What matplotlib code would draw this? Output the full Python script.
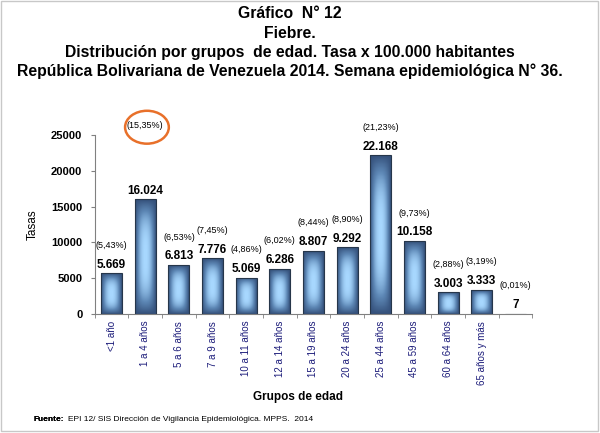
import numpy as np
import matplotlib.pyplot as plt
from matplotlib.colors import LinearSegmentedColormap
from matplotlib.patches import Ellipse, Rectangle

plt.rcParams['font.family'] = ['Liberation Sans', 'DejaVu Sans']

grupos = ['<1 año', '1 a 4 años', '5 a 6 años', '7 a 9 años', '10 a 11 años',
          '12 a 14 años', '15 a 19 años', '20 a 24 años', '25 a 44 años',
          '45 a 59 años', '60 a 64 años', '65 años y más', '']
tasas = [5669, 16024, 6813, 7776, 5069, 6286, 8807, 9292, 22168, 10158, 3003, 3333, 7]
etiquetas = ['5.669', '16.024', '6.813', '7.776', '5.069', '6.286', '8.807',
             '9.292', '22.168', '10.158', '3.003', '3.333', '7']
porcentajes = ['(5,43%)', '(15,35%)', '(6,53%)', '(7,45%)', '(4,86%)', '(6,02%)',
               '(8,44%)', '(8,90%)', '(21,23%)', '(9,73%)', '(2,88%)', '(3,19%)',
               '(0,01%)']

fig = plt.figure(figsize=(6, 4.33), dpi=100)
ax = fig.add_axes([0.158, 0.275, 0.729, 0.413])

x = np.arange(len(tasas))
bars = ax.bar(x, tasas, width=0.62, facecolor='none', edgecolor='#26364a',
              linewidth=0.8, zorder=3)

# gradient fill: dark at the edges, light in the middle
cmap = LinearSegmentedColormap.from_list('azul', ['#34507a', '#5d87b5', '#a8d8ff'])
u = np.linspace(-1, 1, 60)
v = np.linspace(-1, 1, 120)
U, V = np.meshgrid(u, v)
grad = (1 - np.abs(U) ** 2.2) * (1 - np.abs(V) ** 3.0)
for b in bars:
    x0, y0 = b.get_x(), b.get_y()
    w, h = b.get_width(), b.get_height()
    im = ax.imshow(grad, cmap=cmap, extent=[x0, x0 + w, y0, y0 + h],
                   aspect='auto', zorder=2, origin='lower', vmin=0, vmax=1)
    im.set_clip_path(b)

ax.set_xlim(-0.5, len(tasas) - 0.5)
ax.set_ylim(0, 25000)
ax.set_yticks(range(0, 25001, 5000))
ax.tick_params(axis='y', labelsize=8, length=3, color='#808080', pad=6)
for t in ax.get_yticklabels():
    t.set_fontweight('bold')

ax.set_xticks(x)
ax.set_xticklabels(grupos, rotation=90, fontsize=7, color='#1c1c7a')
ax.set_xticks(np.arange(-0.5, len(tasas), 1), minor=True)
ax.tick_params(axis='x', which='major', length=0, pad=5)
ax.tick_params(axis='x', which='minor', length=3, color='#808080')

for s in ['top', 'right']:
    ax.spines[s].set_visible(False)
for s in ['left', 'bottom']:
    ax.spines[s].set_color('#808080')

for i, (val, lab, pct) in enumerate(zip(tasas, etiquetas, porcentajes)):
    ax.annotate(lab, (i, val), xytext=(0, 2), textcoords='offset points',
                ha='center', va='bottom', fontsize=8.5, fontweight='bold')
    if i == 1:
        ax.text(i, 26300, pct, ha='center', va='center', fontsize=6.5,
                clip_on=False)
    else:
        ax.annotate(pct, (i, val), xytext=(0, 17), textcoords='offset points',
                    ha='center', va='bottom', fontsize=6.5)

ax.add_patch(Ellipse((1.05, 26100), 1.3, 4600, fill=False, edgecolor='#e8702a',
                     linewidth=1.8, clip_on=False))

ax.set_ylabel('Tasas', fontsize=8.5, labelpad=9)
fig.text(0.497, 1 - 397 / 433, 'Grupos de edad', ha='center', va='center',
         fontsize=8.5, fontweight='bold')

titulo = ['Gráfico  N° 12', 'Fiebre.',
          'Distribución por grupos  de edad. Tasa x 100.000 habitantes',
          'República Bolivariana de Venezuela 2014. Semana epidemiológica N° 36.']
for k, linea in enumerate(titulo):
    fig.text(0.483, 1 - (14 + 19 * k) / 433, linea, ha='center', va='center',
             fontsize=11.3, fontweight='bold')

fuente = fig.text(33 / 600, 1 - 421 / 433, 'Fuente:', fontsize=6,
                  fontweight='bold', va='baseline')
fig.add_artist(fuente)
ax.annotate('EPI 12/ SIS Dirección de Vigilancia Epidemiológica. MPPS.  2014',
            xy=(1, 0), xycoords=fuente, xytext=(3, 0),
            textcoords='offset points', fontsize=6, va='bottom',
            annotation_clip=False)

fig.add_artist(Rectangle((0.001, 0.004), 0.995, 0.994, transform=fig.transFigure,
                         fill=False, edgecolor='#c8c8c8', linewidth=1))

fig.savefig('out.png', dpi=100)
